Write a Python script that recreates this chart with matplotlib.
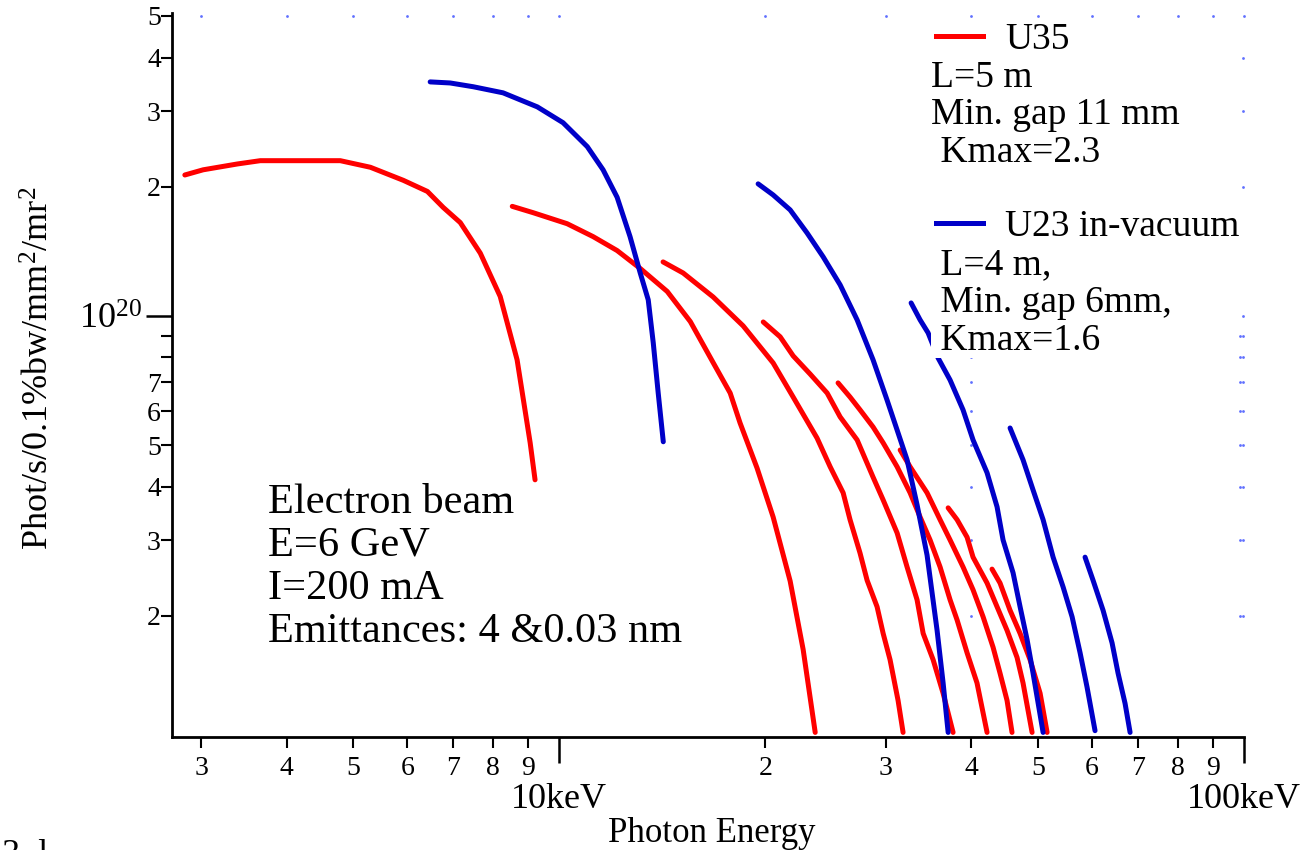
import matplotlib
matplotlib.use("Agg")
import matplotlib.pyplot as plt
from matplotlib.lines import Line2D

# Brilliance curves
# energy in keV, brilliance in units of 1e20 phot/s/0.1%bw/mm2/mr2

# U35, odd harmonics 1..15
u35_h1_e = [2.84, 3.02, 3.39, 3.66, 4.79, 5.30, 5.92, 6.42, 6.77, 7.17, 7.67, 8.20, 8.68, 9.07, 9.22]
u35_h1_b = [2.13, 2.19, 2.26, 2.30, 2.30, 2.22, 2.07, 1.95, 1.79, 1.65, 1.40, 1.11, 0.79, 0.506, 0.415]
u35_h3_e = [8.54, 9.16, 10.27, 11.21, 12.15, 13.13, 14.38, 15.54, 16.79, 17.77, 18.37, 19.45, 20.53, 21.74, 22.71, 23.65]
u35_h3_b = [1.80, 1.74, 1.64, 1.53, 1.42, 1.29, 1.14, 0.97, 0.777, 0.661, 0.563, 0.442, 0.340, 0.241, 0.167, 0.107]
u35_h5_e = [14.18, 15.17, 16.78, 18.56, 20.53, 21.96, 23.80, 24.87, 25.98, 26.59, 27.50, 28.16, 29.12, 29.72, 30.42, 31.25, 31.78]
u35_h5_b = [1.336, 1.259, 1.107, 0.948, 0.777, 0.647, 0.519, 0.445, 0.387, 0.335, 0.280, 0.242, 0.210, 0.182, 0.158, 0.127, 0.107]
u35_h7_e = [19.86, 21.02, 21.96, 23.25, 24.62, 25.72, 27.23, 28.73, 29.72, 31.15, 32.21, 33.31, 34.0, 35.16, 36.36, 37.60]
u35_h7_b = [0.968, 0.894, 0.807, 0.732, 0.661, 0.5815, 0.514, 0.421, 0.3725, 0.312, 0.260, 0.218, 0.182, 0.158, 0.132, 0.107]
u35_h9_e = [25.54, 26.59, 27.50, 28.73, 29.72, 31.15, 32.54, 33.65, 34.80, 35.99, 37.22, 38.11, 39.41, 40.75, 42.15]
u35_h9_b = [0.698, 0.647, 0.604, 0.551, 0.506, 0.445, 0.387, 0.340, 0.3005, 0.260, 0.218, 0.1956, 0.164, 0.1395, 0.107]
u35_h11_e = [31.47, 32.54, 34.45, 35.99, 37.22, 38.88, 40.21, 41.59, 43.01, 44.03, 45.08, 45.84]
u35_h11_b = [0.487, 0.445, 0.387, 0.335, 0.3005, 0.260, 0.230, 0.199, 0.169, 0.147, 0.127, 0.107]
u35_h13_e = [36.98, 38.11, 39.41, 40.21, 42.15, 43.59, 45.08, 46.62, 47.57, 49.04]
u35_h13_b = [0.357, 0.335, 0.305, 0.274, 0.2385, 0.210, 0.185, 0.160, 0.1395, 0.107]
u35_h15_e = [42.86, 44.03, 45.54, 47.10, 48.71, 50.38, 51.58]
u35_h15_b = [0.257, 0.2385, 0.206, 0.182, 0.158, 0.132, 0.107]

# U23 in-vacuum, odd harmonics 1..9
u23_h1_e = [6.48, 6.93, 7.49, 8.28, 9.29, 10.13, 10.99, 11.59, 12.15, 12.69, 13.13, 13.49, 13.72, 13.95, 14.19]
u23_h1_b = [3.51, 3.49, 3.42, 3.31, 3.07, 2.82, 2.48, 2.19, 1.89, 1.53, 1.26, 1.09, 0.865, 0.661, 0.509]
u23_h3_e = [19.52, 20.53, 21.74, 23.01, 24.29, 25.72, 27.23, 28.73, 30.11, 31.15, 32.21, 33.31, 34.45, 35.63, 36.36, 36.98]
u23_h3_b = [2.031, 1.914, 1.766, 1.561, 1.373, 1.181, 0.979, 0.790, 0.637, 0.542, 0.462, 0.363, 0.277, 0.185, 0.1395, 0.107]
u23_h5_e = [32.65, 33.65, 34.57, 35.75, 37.22, 38.88, 40.21, 42.15, 43.59, 44.48, 46.0, 47.10, 48.22, 49.20, 50.89]
u23_h5_b = [1.072, 0.979, 0.913, 0.798, 0.709, 0.604, 0.514, 0.431, 0.359, 0.3005, 0.252, 0.210, 0.176, 0.147, 0.107]
u23_h7_e = [45.54, 47.57, 49.20, 50.89, 52.63, 54.43, 56.10, 57.63, 58.99, 60.60]
u23_h7_b = [0.548, 0.462, 0.393, 0.335, 0.274, 0.2335, 0.199, 0.164, 0.1365, 0.108]
u23_h9_e = [58.60, 60.20, 62.26, 64.17, 65.48, 67.04, 68.18]
u23_h9_b = [0.274, 0.242, 0.206, 0.173, 0.147, 0.125, 0.107]

# Axis ticks
x_minor_ticks = [3, 4, 5, 6, 7, 8, 9, 20, 30, 40, 50, 60, 70, 80, 90]
x_minor_labels = ["3", "4", "5", "6", "7", "8", "9", "2", "3", "4", "5", "6", "7", "8", "9"]
x_major_ticks = [10, 100]
x_major_labels = ["10keV", "100keV"]
y_minor_ticks = [2e19, 3e19, 4e19, 5e19, 6e19, 7e19, 8e19, 9e19, 2e20, 3e20, 4e20, 5e20]
y_minor_labels = ["2", "3", "4", "5", "6", "7", "", "", "2", "3", "4", "5"]
y_major_ticks = [1e20]
y_major_labels = [r"$10^{20}$"]

beam_text = ["Electron beam", "E=6 GeV", "I=200 mA", "Emittances: 4 &0.03 nm"]
u35_text = ["L=5 m", "Min. gap 11 mm", " Kmax=2.3"]
u23_text = [" L=4 m,", " Min. gap 6mm,", " Kmax=1.6"]

RED = "#ff0000"
BLUE = "#0000c8"
DOT = "#6070ff"
SCALE = 1e20

plt.rcParams["font.family"] = ["Liberation Serif", "DejaVu Serif"]
plt.rcParams["mathtext.fontset"] = "custom"
plt.rcParams["mathtext.rm"] = "Liberation Serif"
plt.rcParams["mathtext.it"] = "Liberation Serif:italic"

W, H = 1308, 850
fig = plt.figure(figsize=(W / 100, H / 100), dpi=100)
ax = fig.add_axes([172 / W, 1 - 737 / H, (1244 - 172) / W, (737 - 13) / H])
ax.set_xscale("log")
ax.set_yscale("log")
ax.set_xlim(2.72, 100)
ax.set_ylim(1.044e19, 5.08e20)

u35 = [(u35_h1_e, u35_h1_b), (u35_h3_e, u35_h3_b), (u35_h5_e, u35_h5_b), (u35_h7_e, u35_h7_b),
       (u35_h9_e, u35_h9_b), (u35_h11_e, u35_h11_b), (u35_h13_e, u35_h13_b), (u35_h15_e, u35_h15_b)]
u23 = [(u23_h1_e, u23_h1_b), (u23_h3_e, u23_h3_b), (u23_h5_e, u23_h5_b), (u23_h7_e, u23_h7_b),
       (u23_h9_e, u23_h9_b)]

for e, b in u35:
    ax.plot(e, [v * SCALE for v in b], color=RED, lw=3.6, solid_capstyle="round", zorder=3)
for e, b in u23:
    ax.plot(e, [v * SCALE for v in b], color=BLUE, lw=3.6, solid_capstyle="round", zorder=4)

# stray grid dots of the original plot
top = ax.get_ylim()[1] * 0.985
xs_top = x_minor_ticks + x_major_ticks
ax.scatter(xs_top, [top] * len(xs_top), s=4, color=DOT, clip_on=False, zorder=2, lw=0)
ys_right = y_minor_ticks[:-1] + y_major_ticks
ax.scatter([99.5] * len(ys_right), ys_right, s=4, color=DOT, clip_on=False, zorder=2, lw=0)
low = [y for y in y_minor_ticks if y < 1e20]
ax.scatter([98.6] * len(low), low, s=4, color=DOT, clip_on=False, zorder=2, lw=0)
ax.scatter([40] * len(low), low, s=4, color=DOT, clip_on=False, zorder=2, lw=0)

# ticks
ax.set_xticks(x_major_ticks, x_major_labels)
ax.set_xticks(x_minor_ticks, x_minor_labels, minor=True)
ax.set_yticks(y_major_ticks, y_major_labels)
ax.set_yticks(y_minor_ticks, y_minor_labels, minor=True)

ax.tick_params(which="major", length=19, width=1.8, direction="out", colors="black")
ax.tick_params(which="minor", length=8, width=1.5, direction="out", colors="black")
ax.tick_params(axis="x", which="minor", labelsize=20, pad=6)
ax.tick_params(axis="x", which="major", labelsize=26, pad=14)
ax.tick_params(axis="y", which="minor", labelsize=20, pad=0)
ax.tick_params(axis="y", which="major", labelsize=26, pad=3)

for side in ["top", "right"]:
    ax.spines[side].set_visible(False)
for side in ["left", "bottom"]:
    ax.spines[side].set_linewidth(2)

# axis titles
fig.text(40 / W, 1 - 368 / H, r"Phot/s/0.1%bw/mm$^2$/mr$^2$", rotation=90, ha="center", va="center",
         fontsize=26)
fig.text(712 / W, 1 - 842 / H, "Photon Energy", ha="center", va="baseline", fontsize=25)

# beam parameters
for i, line in enumerate(beam_text):
    fig.text(268 / W, 1 - (513 + 43 * i) / H, line, ha="left", va="baseline", fontsize=30.5)

# legend
leg1 = ax.legend(handles=[Line2D([], [], color=RED, lw=3.6)], labels=["U35"], frameon=False,
                 loc="center left", bbox_to_anchor=(936 / W, 1 - 40 / H), bbox_transform=fig.transFigure,
                 fontsize=27, handlelength=1.25, handletextpad=0.6, borderpad=0, borderaxespad=0)
ax.add_artist(leg1)
leg2 = ax.legend(handles=[Line2D([], [], color=BLUE, lw=3.6)], labels=["U23 in-vacuum"], frameon=False,
                 loc="center left", bbox_to_anchor=(936 / W, 1 - 227 / H), bbox_transform=fig.transFigure,
                 fontsize=27, handlelength=1.25, handletextpad=0.6, borderpad=0, borderaxespad=0)
for i, line in enumerate(u35_text):
    fig.text(931 / W, 1 - (87 + 37.5 * i) / H, line, ha="left", va="baseline", fontsize=27,
             bbox=dict(facecolor="white", edgecolor="none", pad=0), zorder=5)
for i, line in enumerate(u23_text):
    fig.text(931 / W, 1 - (274 + 38 * i) / H, line, ha="left", va="baseline", fontsize=27,
             bbox=dict(facecolor="white", edgecolor="none", pad=0), zorder=5)

# caption fragment cut by the bottom edge, as in the original
fig.text(2 / W, -14 / H, "3. l", ha="left", va="baseline", fontsize=26)

fig.savefig("out.png", dpi=100)
